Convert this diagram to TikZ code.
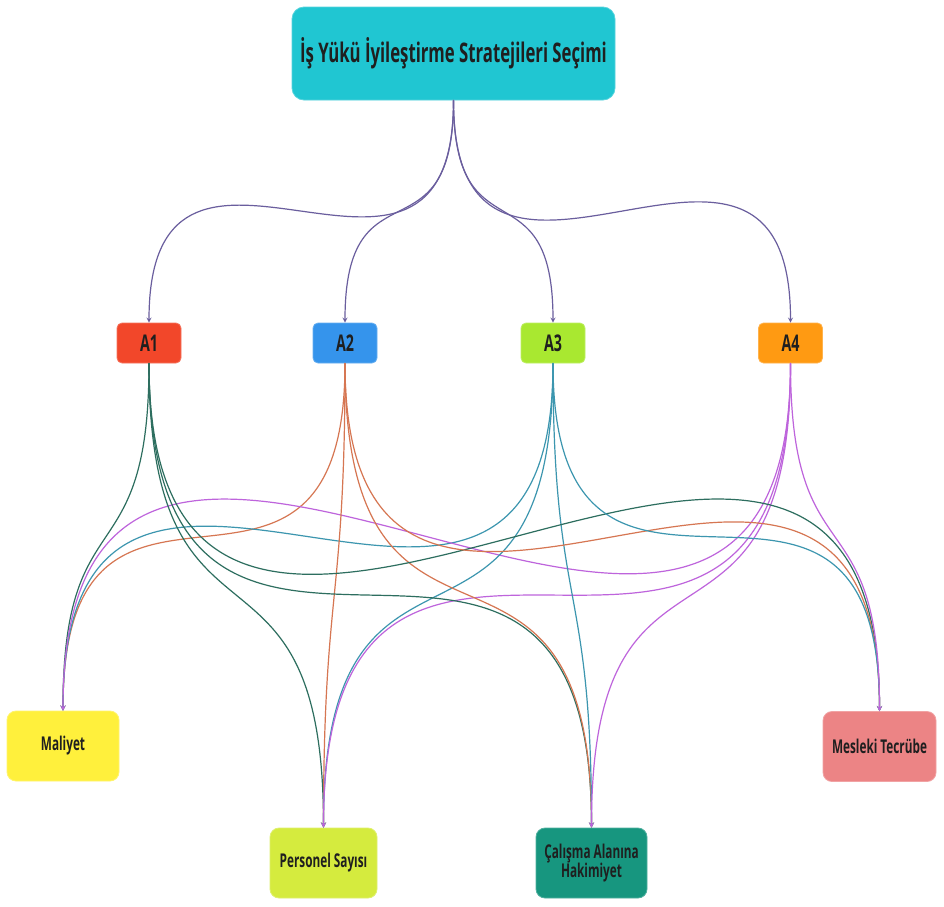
\documentclass[tikz,border=0pt]{standalone}
\usepackage{fontspec}
\newfontfamily\mapfont{Open Sans}[FakeStretch=0.62]
\usetikzlibrary{calc}

\definecolor{goalcyan}{RGB}{32,198,210}
\definecolor{aone}{RGB}{242,71,42}
\definecolor{atwo}{RGB}{53,148,236}
\definecolor{athree}{RGB}{169,232,48}
\definecolor{afour}{RGB}{255,154,18}
\definecolor{cmal}{RGB}{255,240,60}
\definecolor{cper}{RGB}{213,235,62}
\definecolor{ccal}{RGB}{23,150,127}
\definecolor{cmes}{RGB}{236,132,133}
\definecolor{etop}{RGB}{106,94,158}
\definecolor{eone}{RGB}{45,110,95}
\definecolor{etwo}{RGB}{214,118,82}
\definecolor{ethree}{RGB}{60,150,175}
\definecolor{efour}{RGB}{190,100,220}

\tikzset{
  box/.style={draw=#1!75!white, fill=#1, line width=0.8pt, rounded corners=8pt,
    text=black!88, inner sep=0pt, align=center},
  alt/.style={box=#1, minimum width=64pt, minimum height=40pt, rounded corners=5pt,
    font=\mapfont\bfseries\fontsize{23}{25}\selectfont},
  crit/.style={box=#1, minimum width=111pt, minimum height=70pt, rounded corners=9pt,
    font=\mapfont\bfseries\fontsize{19}{19}\selectfont},
  link/.style={draw=#1, line width=1.2pt, ->,
    to path={let \p1=(\tikztostart), \p2=(\tikztotarget),
      \n1={(abs(\x2-\x1)+abs(\y2-\y1))/2} in
      (\tikztostart) .. controls +(0pt,-\n1) and +(0pt,\n1) .. (\tikztotarget)}}
}

\begin{document}
\begin{tikzpicture}[x=1pt, y=-1pt, >=stealth, line join=round, line cap=round]
  \fill[white] (0,0) rectangle (944,906);
  \useasboundingbox (0,0) rectangle (944,906);

  % goal
  \node[box=goalcyan, minimum width=323pt, minimum height=93pt, rounded corners=12pt,
    font=\mapfont\bfseries\fontsize{27}{29}\selectfont] (goal) at (453.5,53.5)
    {İş Yükü İyileştirme Stratejileri Seçimi};

  % alternatives
  \node[alt=aone]   (a1) at (149,343)   {A1};
  \node[alt=atwo]   (a2) at (345,343)   {A2};
  \node[alt=athree] (a3) at (553,343)   {A3};
  \node[alt=afour]  (a4) at (790.5,343) {A4};

  % criteria
  \node[crit=cmal, minimum width=112pt] (mal) at (63,746)      {Maliyet};
  \node[crit=cper, minimum width=107pt] (per) at (323.5,863)   {Personel Sayısı};
  \node[crit=ccal]                      (cal) at (591.5,863)   {Çalışma Alanına\\Hakimiyet};
  \node[crit=cmes, minimum width=113pt] (mes) at (879.5,746.5) {Mesleki Tecrübe};

  % links
  \foreach \a in {a1,a2,a3,a4}
    \draw[link=etop] (goal.south) to (\a.north);
  \foreach \c in {mal,per,cal,mes} {
    \draw[link=eone]   (a1.south) to (\c.north);
    \draw[link=etwo]   (a2.south) to (\c.north);
    \draw[link=ethree] (a3.south) to (\c.north);
    \draw[link=efour]  (a4.south) to (\c.north);
  }
\end{tikzpicture}
\end{document}
